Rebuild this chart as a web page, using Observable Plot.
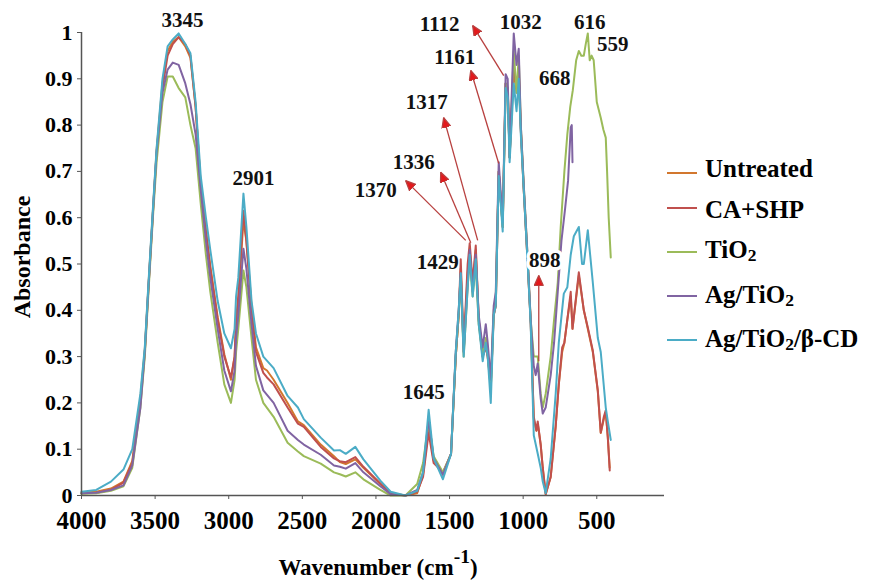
<!DOCTYPE html>
<html><head><meta charset="utf-8">
<script src="https://cdn.jsdelivr.net/npm/d3@7"></script>
<script src="https://cdn.jsdelivr.net/npm/@observablehq/plot@0.6"></script>
<style>
body{margin:0;background:#fff;}
#wrap{position:relative;width:893px;height:584px;font-family:"Liberation Serif","Times New Roman",serif;font-weight:bold;color:#000;background:#fff;}
#wrap svg{position:absolute;left:0;top:0;}
.lg{position:absolute;left:667px;height:28px;padding-left:38px;font-size:25px;line-height:28px;white-space:nowrap;}
.lg .sw{position:absolute;left:0;width:30px;height:2px;}
.lg sub{font-size:0.7em;line-height:0;position:relative;top:0.2em;vertical-align:baseline;}
#xlab{position:absolute;left:378px;top:556px;transform:translateX(-50%);font-size:23px;line-height:1;white-space:nowrap;}
#xlab .sup{font-size:0.85em;position:relative;top:-0.6em;}
#ylab{position:absolute;left:22px;top:257px;transform:translate(-50%,-50%) rotate(-90deg);font-size:24px;line-height:1;white-space:nowrap;}
</style></head><body><div id="wrap"></div>
<script>
// ---- data: [wavenumber (cm-1), absorbance] ----
const untreated = [[4000,0.006],[3900,0.008],[3800,0.015],[3715,0.03],[3655,0.075],[3600,0.21],[3570,0.315],[3545,0.455],[3515,0.615],[3490,0.745],[3450,0.89],[3415,0.96],[3380,0.98],[3340,0.99],[3295,0.97],[3260,0.945],[3225,0.84],[3190,0.67],[3155,0.575],[3125,0.495],[3075,0.385],[3030,0.305],[2985,0.25],[2960,0.30],[2950,0.37],[2935,0.42],[2900,0.595],[2880,0.55],[2845,0.41],[2815,0.32],[2765,0.275],[2740,0.27],[2695,0.25],[2600,0.20],[2530,0.16],[2490,0.152],[2375,0.11],[2285,0.085],[2245,0.072],[2205,0.068],[2140,0.078],[2085,0.06],[1970,0.025],[1900,0.005],[1800,0.0],[1720,0.005],[1680,0.045],[1642,0.15],[1608,0.075],[1545,0.045],[1490,0.09],[1458,0.30],[1438,0.39],[1424,0.49],[1404,0.31],[1377,0.48],[1363,0.53],[1343,0.45],[1322,0.53],[1302,0.38],[1275,0.30],[1254,0.33],[1241,0.30],[1220,0.23],[1200,0.39],[1186,0.41],[1166,0.70],[1139,0.58],[1119,0.89],[1105,0.88],[1092,0.73],[1064,0.92],[1045,0.87],[1030,0.91],[1016,0.79],[996,0.66],[969,0.50],[949,0.375],[928,0.165],[910,0.14],[901,0.155],[881,0.11],[867,0.06],[847,0.003],[813,0.04],[779,0.15],[758,0.24],[735,0.31],[720,0.33],[700,0.38],[677,0.43],[665,0.36],[622,0.475],[588,0.40],[561,0.36],[527,0.31],[493,0.225],[473,0.135],[452,0.165],[439,0.18],[425,0.125],[412,0.06]];
const caShp = [[4000,0.005],[3900,0.006],[3800,0.012],[3715,0.028],[3655,0.07],[3600,0.20],[3570,0.31],[3545,0.45],[3515,0.61],[3490,0.74],[3450,0.88],[3415,0.95],[3380,0.975],[3340,0.99],[3295,0.975],[3260,0.95],[3225,0.84],[3190,0.67],[3155,0.57],[3125,0.49],[3075,0.38],[3030,0.30],[2985,0.255],[2960,0.30],[2950,0.38],[2935,0.43],[2900,0.615],[2880,0.55],[2845,0.40],[2815,0.31],[2765,0.265],[2740,0.255],[2695,0.24],[2600,0.19],[2530,0.155],[2490,0.148],[2375,0.105],[2285,0.08],[2245,0.074],[2205,0.072],[2140,0.083],[2085,0.062],[1970,0.026],[1900,0.005],[1800,0.0],[1720,0.008],[1680,0.04],[1642,0.135],[1608,0.07],[1545,0.05],[1490,0.09],[1458,0.30],[1438,0.39],[1424,0.51],[1404,0.32],[1377,0.50],[1363,0.545],[1343,0.46],[1322,0.54],[1302,0.38],[1275,0.30],[1254,0.32],[1241,0.30],[1220,0.24],[1200,0.39],[1186,0.41],[1166,0.70],[1139,0.58],[1119,0.89],[1105,0.88],[1092,0.73],[1064,0.93],[1045,0.88],[1030,0.92],[1016,0.79],[996,0.66],[969,0.50],[949,0.375],[928,0.17],[910,0.14],[901,0.16],[881,0.11],[867,0.06],[847,0.003],[813,0.04],[779,0.15],[758,0.24],[735,0.32],[720,0.33],[700,0.38],[677,0.44],[665,0.36],[622,0.482],[588,0.40],[561,0.363],[527,0.313],[493,0.227],[473,0.136],[452,0.17],[439,0.184],[425,0.125],[412,0.054]];
const tio2 = [[4000,0.004],[3900,0.005],[3800,0.01],[3715,0.02],[3655,0.06],[3600,0.19],[3570,0.30],[3545,0.44],[3515,0.60],[3490,0.72],[3450,0.85],[3415,0.905],[3380,0.905],[3340,0.88],[3295,0.86],[3260,0.80],[3225,0.75],[3190,0.63],[3155,0.52],[3125,0.44],[3075,0.33],[3030,0.24],[2985,0.20],[2960,0.25],[2950,0.31],[2935,0.36],[2900,0.486],[2880,0.45],[2845,0.34],[2815,0.25],[2765,0.20],[2695,0.17],[2600,0.114],[2530,0.095],[2490,0.085],[2375,0.069],[2285,0.05],[2245,0.046],[2205,0.041],[2140,0.05],[2085,0.035],[1970,0.012],[1900,0.0],[1800,0.0],[1720,0.025],[1680,0.07],[1642,0.16],[1608,0.085],[1545,0.05],[1490,0.09],[1458,0.30],[1438,0.39],[1424,0.47],[1404,0.30],[1377,0.45],[1363,0.51],[1343,0.43],[1322,0.50],[1302,0.37],[1275,0.30],[1254,0.34],[1241,0.31],[1220,0.23],[1200,0.40],[1186,0.43],[1166,0.70],[1139,0.58],[1119,0.89],[1105,0.88],[1092,0.73],[1064,0.96],[1045,0.87],[1030,0.95],[1016,0.80],[996,0.67],[969,0.51],[949,0.38],[928,0.30],[901,0.30],[881,0.22],[867,0.19],[847,0.22],[813,0.30],[790,0.38],[765,0.46],[745,0.58],[720,0.70],[700,0.78],[680,0.84],[663,0.875],[640,0.94],[622,0.96],[605,0.95],[588,0.95],[575,0.975],[561,0.998],[548,0.94],[535,0.95],[521,0.94],[500,0.85],[473,0.816],[455,0.79],[439,0.773],[430,0.70],[419,0.60],[405,0.514]];
const agTio2 = [[4000,0.005],[3900,0.006],[3800,0.012],[3715,0.022],[3655,0.065],[3600,0.19],[3570,0.31],[3545,0.45],[3515,0.61],[3490,0.74],[3450,0.87],[3415,0.92],[3380,0.935],[3340,0.93],[3295,0.89],[3260,0.845],[3225,0.78],[3190,0.66],[3155,0.55],[3125,0.47],[3075,0.36],[3030,0.27],[2985,0.225],[2960,0.27],[2950,0.34],[2935,0.39],[2900,0.533],[2880,0.49],[2845,0.37],[2815,0.28],[2765,0.227],[2695,0.20],[2600,0.14],[2530,0.12],[2490,0.11],[2375,0.088],[2285,0.065],[2245,0.062],[2205,0.058],[2140,0.07],[2085,0.05],[1970,0.02],[1900,0.003],[1800,0.0],[1720,0.012],[1680,0.05],[1642,0.165],[1608,0.08],[1545,0.045],[1490,0.09],[1458,0.31],[1438,0.40],[1424,0.48],[1404,0.31],[1377,0.46],[1363,0.53],[1343,0.44],[1322,0.52],[1302,0.39],[1275,0.32],[1254,0.37],[1241,0.33],[1220,0.25],[1200,0.41],[1186,0.44],[1166,0.72],[1139,0.59],[1119,0.91],[1105,0.90],[1092,0.73],[1064,0.998],[1045,0.93],[1030,0.965],[1016,0.80],[996,0.67],[969,0.51],[949,0.38],[928,0.28],[915,0.26],[901,0.285],[881,0.21],[867,0.177],[847,0.19],[813,0.26],[790,0.33],[765,0.44],[740,0.55],[715,0.62],[695,0.68],[677,0.795],[670,0.80],[665,0.72]];
const agTio2Cd = [[4000,0.008],[3900,0.012],[3800,0.03],[3715,0.056],[3655,0.10],[3600,0.22],[3570,0.32],[3545,0.46],[3515,0.62],[3490,0.75],[3450,0.90],[3415,0.97],[3380,0.985],[3340,0.998],[3295,0.975],[3260,0.955],[3225,0.85],[3190,0.69],[3155,0.60],[3125,0.53],[3075,0.42],[3030,0.35],[2985,0.318],[2960,0.36],[2950,0.43],[2935,0.47],[2900,0.652],[2880,0.58],[2845,0.42],[2815,0.35],[2765,0.30],[2695,0.275],[2600,0.215],[2530,0.19],[2490,0.165],[2375,0.125],[2285,0.097],[2245,0.098],[2205,0.09],[2140,0.105],[2085,0.078],[1970,0.032],[1900,0.008],[1800,0.0],[1720,0.01],[1680,0.05],[1642,0.185],[1608,0.08],[1545,0.035],[1490,0.09],[1458,0.31],[1438,0.40],[1424,0.48],[1404,0.30],[1377,0.45],[1363,0.52],[1343,0.43],[1322,0.51],[1302,0.37],[1275,0.29],[1254,0.33],[1241,0.30],[1220,0.20],[1200,0.39],[1186,0.41],[1166,0.69],[1139,0.57],[1119,0.88],[1105,0.86],[1092,0.72],[1064,0.89],[1045,0.83],[1030,0.90],[1016,0.78],[996,0.66],[969,0.50],[949,0.37],[928,0.13],[901,0.09],[881,0.06],[867,0.03],[847,0.005],[813,0.08],[779,0.22],[758,0.33],[724,0.436],[700,0.45],[677,0.52],[656,0.56],[622,0.58],[600,0.50],[588,0.50],[561,0.573],[527,0.46],[493,0.34],[473,0.31],[439,0.19],[425,0.16],[405,0.12]];

const seriesNames = ["Untreated", "CA+SHP", "TiO2", "Ag/TiO2", "Ag/TiO2/β-CD"];
const seriesData = [untreated, caShp, tio2, agTio2, agTio2Cd];
const seriesColors = ["#d2772e", "#c0504d", "#9bbb59", "#8064a2", "#4bacc6"];

const xTicks = [4000, 3500, 3000, 2500, 2000, 1500, 1000, 500];
const yTicks = [0, 0.1, 0.2, 0.3, 0.4, 0.5, 0.6, 0.7, 0.8, 0.9, 1];

// peak annotations: [label, wavenumber, absorbance]
const peakLabels = [["3345",3314,1.026],["2901",2831,0.685],["1645",1676,0.222],["1429",1581,0.503],["1370",2002,0.659],["1336",1744,0.719],["1317",1655,0.849],["1161",1465,0.946],["1112",1567,1.017],["1032",1017,1.022],["616",548,1.022],["559",391,0.974],["668",786,0.901]];
const boxedLabels = [["898",853,0.508]];
// arrows: [fromWn, fromAbs, toWn, toAbs]
const arrows = [[1390,0.551,1798,0.680],[1356,0.546,1560,0.698],[1309,0.551,1540,0.816],[1166,0.717,1356,0.918],[1132,0.907,1343,1.015],[894,0.29,894,0.475]];

// ---- chart ----
const font = "Liberation Serif, Times New Roman, serif";
const lineMarks = seriesData.map((d, i) => Plot.line(d, {x: p => p[0], y: p => p[1], stroke: seriesColors[i], strokeWidth: 2}));

function triangleHead(color, ctx) {
  const doc = ctx && ctx.document ? ctx.document : (ctx && ctx.createElementNS ? ctx : document);
  const ns = "http://www.w3.org/2000/svg";
  const m = doc.createElementNS(ns, "marker");
  m.setAttribute("viewBox", "-10 -5 11 10");
  m.setAttribute("markerWidth", "11");
  m.setAttribute("markerHeight", "10");
  m.setAttribute("markerUnits", "userSpaceOnUse");
  m.setAttribute("orient", "auto");
  const p = doc.createElementNS(ns, "path");
  p.setAttribute("d", "M-10,-4.5L0,0L-10,4.5Z");
  p.setAttribute("fill", "#e3191c");
  m.appendChild(p);
  return m;
}

function arrowMark() {
  try {
    return Plot.link(arrows, {x1: d => d[0], y1: d => d[1], x2: d => d[2], y2: d => d[3], stroke: "#b8403f", strokeWidth: 1.3, markerEnd: triangleHead});
  } catch (e) {
    return Plot.arrow(arrows, {x1: d => d[0], y1: d => d[1], x2: d => d[2], y2: d => d[3], stroke: "#cc2a2a", strokeWidth: 1.4, headLength: 9, headAngle: 50});
  }
}

function build(arrowsMark) {
  return Plot.plot({
    width: 893, height: 584,
    marginLeft: 81, marginRight: 229, marginTop: 32, marginBottom: 89,
    style: {fontFamily: font, fontWeight: "bold", color: "#000", background: "transparent", overflow: "visible"},
    x: {domain: [4000, 40]},
    y: {domain: [0, 1]},
    marks: [
      Plot.axisX({ticks: xTicks, tickFormat: d => String(d), tickSize: 4, tickPadding: 12, fontSize: 25, fontWeight: "bold", fontFamily: font, stroke: "#555", label: null}),
      Plot.axisY({ticks: yTicks, tickFormat: d => String(+d.toFixed(1)), tickSize: 4, tickPadding: 5, fontSize: 22, fontWeight: "bold", fontFamily: font, stroke: "#555", label: null}),
      ...lineMarks,
      Plot.ruleY([0], {stroke: "#555", strokeWidth: 1.5}),
      Plot.ruleX([4000], {stroke: "#555", strokeWidth: 1.5}),
      arrowsMark,
      Plot.text(peakLabels, {x: d => d[1], y: d => d[2], text: d => d[0], fontSize: 21, fontWeight: "bold", fontFamily: font, fill: "#111"}),
      Plot.text(boxedLabels, {x: d => d[1], y: d => d[2], text: d => d[0], fontSize: 21, fontWeight: "bold", fontFamily: font, fill: "#111", stroke: "white", strokeWidth: 7, strokeLinejoin: "miter"})
    ]
  });
}

let chart;
try { chart = build(arrowMark()); }
catch (e) { chart = build(Plot.arrow(arrows, {x1: d => d[0], y1: d => d[1], x2: d => d[2], y2: d => d[3], stroke: "#cc2a2a", strokeWidth: 1.4, headLength: 9, headAngle: 50})); }

const wrap = document.getElementById("wrap");
wrap.appendChild(chart);

// legend
const legendBaseY = [177, 218, 258, 303, 347];
const legendLineY = [173, 208, 252, 296, 340];
seriesNames.forEach((name, i) => {
  const row = document.createElement("div");
  row.className = "lg";
  const top = legendBaseY[i] - 22.4;
  row.style.top = top + "px";
  const sw = document.createElement("div");
  sw.className = "sw";
  sw.style.background = seriesColors[i];
  sw.style.top = (legendLineY[i] - top - 1) + "px";
  const tx = document.createElement("span");
  tx.innerHTML = name.replace(/TiO2/g, "TiO<sub>2</sub>");
  row.appendChild(sw); row.appendChild(tx);
  wrap.appendChild(row);
});

const xl = document.createElement("div");
xl.id = "xlab";
xl.innerHTML = 'Wavenumber (cm<span class="sup">-1</span>)';
wrap.appendChild(xl);
const yl = document.createElement("div");
yl.id = "ylab";
yl.textContent = "Absorbance";
wrap.appendChild(yl);
</script>
</body></html>
